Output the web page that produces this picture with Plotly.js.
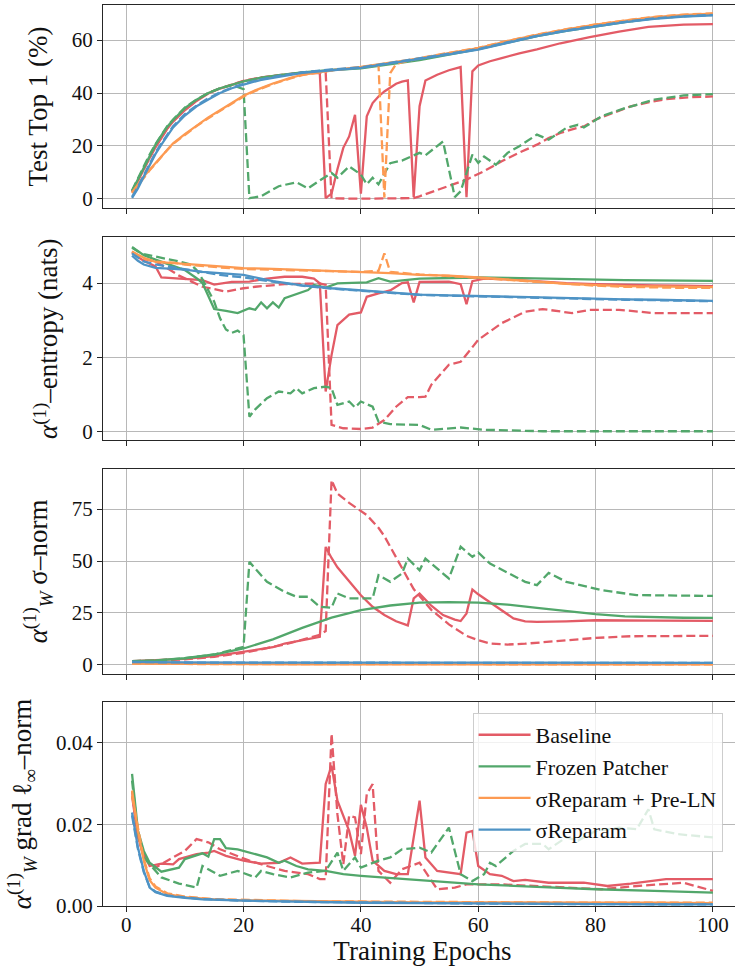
<!DOCTYPE html>
<html>
<head>
<meta charset="utf-8">
<script src="https://cdn.plot.ly/plotly-3.0.1.min.js"></script>
<style>
html, body { margin: 0; padding: 0; overflow: hidden; background: #fff; }
#chart { width: 742px; height: 966px; }
</style>
</head>
<body>
<div id="chart"></div>
<script>
// ---------------- Series names / colors ----------------
const seriesNames = ["Baseline", "Frozen Patcher", "σReparam + Pre-LN", "σReparam"];
const seriesColors = ["#E35B66", "#52A76B", "#FD9A52", "#4E93C5"];

// ---------------- Panel 1: Test Top 1 (%) ----------------
const top1_base_s_x = [1,2,3,4,5,6,7,8,10,12,14,16,18,20,23,26,30,33,34,35,36,37,38,39,40,41,42,43,44,45,46,47,48,49,50,51,52,53,55,57,58,59,60,62,64,67,70,74,79,84,89,95,100];
const top1_base_s_y = [2.5,7,11.2,15.5,19.5,23,26.5,29.2,33.5,37,39.8,41.7,43,44.5,45.8,46.7,47.6,47.5,0.3,2,11.2,19.3,23.6,31.8,2,31.2,36.2,38.7,40.6,41.9,43.5,44.3,44.8,0.7,35,44.7,45.9,46.9,48.6,49.8,0.7,48.2,50.4,52,53.2,55,56.5,58.8,61.1,63.2,65,65.8,66];
const top1_base_d_x = [1,2,3,4,5,6,7,8,10,12,14,16,18,20,23,26,30,34,35,40,45,49,50,52,55,58,61,64,67,70,72,74,76,78,80,83,86,89,92,96,100];
const top1_base_d_y = [2.8,7.2,11.5,15.8,19.8,23.3,26.7,29.5,33.8,37.2,40,41.8,43.2,44.6,45.9,46.8,47.8,47.8,0.2,0.1,0.1,0.3,1,2.5,5,7.3,10.5,14.2,17.5,20.5,23,24.9,26.3,27.4,30,32.5,35,36.5,37.7,38.4,38.7];
const top1_frz_s_x = [1,2,3,4,5,6,7,8,9,10,12,14,16,18,20,23,26,30,35,40,45,50,55,60,65,70,75,80,85,90,95,100];
const top1_frz_s_y = [3,7.5,12,16.5,20.5,24,27.3,29.8,32,34.3,37.5,40,41.8,43.2,44.4,45.8,46.8,47.8,48.7,49.3,50.8,52.4,54.5,56.6,59,61.5,63.5,65.2,66.8,68.2,69.1,69.7];
const top1_frz_d_x = [1,2,3,4,5,6,7,8,9,10,12,14,16,18,20,21,23,26,29,31,33,35,36,38,40,41,42,43,45,47,50,51,54,56,57,59,60,61,63,65,67,70,72,75,77,78,81,85,90,95,100];
const top1_frz_d_y = [3.2,7.8,12.3,16.8,20.7,24.2,27.5,30,32.2,34.5,37.6,40,41.8,43,41.5,0.3,1,4.8,6.3,4,7,9.8,8,12.3,9.2,5.5,8,5.5,13.5,14.5,17.4,16.5,21.7,0.7,2.9,16.7,13.6,16,12.9,17.4,19.9,24.3,22.4,26.8,28,27,31.2,34.3,37.5,39.1,39.6];
const top1_pln_s_x = [1,2,3,4,5,6,7,8,10,12,14,16,18,20,22,25,28,30,35,40,45,50,55,60,65,70,75,80,85,90,95,100];
const top1_pln_s_y = [2.5,5.5,8.5,11,13.5,16,18.8,21,24.5,27.8,30.8,33.5,36.3,39,41,43.6,45.7,46.9,48.6,49.9,51.5,53.1,55.1,57,59.6,62,64,65.8,67.3,68.7,69.5,70];
const top1_pln_d_x = [1,2,3,4,5,6,7,8,10,12,14,16,18,20,22,25,28,30,35,40,43,44,45,46,50,55,60,65,70,75,80,85,90,95,100];
const top1_pln_d_y = [2.2,5.2,8.2,10.8,13.3,16,18.5,20.8,24.2,27.5,30.5,33.3,36,38.7,40.8,43.4,45.5,46.8,48.5,49.7,50.6,0.5,47.5,51,53.2,55.2,57.1,59.7,62.1,64.1,65.9,67.4,68.8,69.6,70.1];
const top1_sig_s_x = [1,2,3,4,5,6,7,8,10,12,14,16,18,20,23,26,30,35,40,45,50,55,60,65,70,75,80,85,90,95,100];
const top1_sig_s_y = [0.4,4,8.5,13,17,20.5,24,27,31.5,35,37.6,40,41.8,43.2,45,46.2,47.6,48.6,49.5,51.2,52.8,54.6,56.4,59,61.5,63.5,65.2,66.8,68,68.9,69.3];
const top1_sig_d_x = [1,2,3,4,5,6,7,8,10,12,14,16,18,20,23,26,30,35,40,45,50,55,60,65,70,75,80,85,90,95,100];
const top1_sig_d_y = [0.8,4.5,9,13.5,17.5,21,24.5,27.5,32,35.3,38,40.3,42,43.5,45.2,46.5,47.8,48.9,49.7,51.4,53,54.8,56.6,59.2,61.6,63.7,65.3,66.9,68.2,69,69.5];

// ---------------- Panel 2: entropy (nats) ----------------
const ent_base_s_x = [1,2,3,4,5,6,8,10,13,15,18,21,24,27,30,32,33,34,35,36,38,40,41,43,45,46,47,48,49,50,52,55,57,58,59,61,65,70,75,80,85,90,95,100];
const ent_base_s_y = [4.85,4.7,4.6,4.52,4.45,4.15,4.13,4.13,4.08,3.96,4.03,4.04,4.12,4.17,4.17,4.12,3.99,1.08,2.06,2.87,3.15,3.21,3.63,3.72,3.8,3.9,4.0,4.02,3.48,4.03,4.04,4.04,3.97,3.43,4.05,4.12,4.1,4.04,4.0,3.97,3.95,3.94,3.93,3.92];
const ent_base_d_x = [1,2,3,5,7,9,13,17,20,22,27,33,34,35,37,40,42,44,46,48,50,51,52,55,57,60,64,68,71,76,79,84,90,95,100];
const ent_base_d_y = [4.82,4.72,4.65,4.58,4.4,4.2,3.9,3.77,3.86,3.9,3.97,3.99,3.95,0.18,0.09,0.07,0.11,0.31,0.67,0.93,0.93,0.94,1.26,1.8,1.88,2.47,2.92,3.23,3.3,3.19,3.28,3.28,3.19,3.19,3.19];
const ent_frz_s_x = [1,2,3,5,7,10,12,13,14,15,17,19,21,22,23,24,25,26,27,30,31,32,34,36,41,43,45,50,55,60,65,70,75,80,85,90,95,100];
const ent_frz_s_y = [4.97,4.85,4.75,4.63,4.52,4.35,4.13,4.0,3.65,3.3,3.25,3.19,3.32,3.28,3.48,3.32,3.48,3.34,3.59,3.77,3.81,3.95,3.88,3.99,4.02,4.13,4.04,4.12,4.14,4.15,4.14,4.12,4.1,4.09,4.08,4.07,4.06,4.06];
const ent_frz_d_x = [1,2,3,5,7,9,11,12,13,14,15,16,17,18,19,20,21,22,24,26,28,29,30,32,34,35,36,38,39,40,42,43,45,50,52,57,59,61,71,80,90,100];
const ent_frz_d_y = [4.95,4.85,4.78,4.72,4.65,4.58,4.5,4.35,4.1,3.8,3.5,3.05,2.75,2.66,2.72,2.6,0.4,0.6,0.9,1.08,1.03,1.17,1.03,1.17,1.21,1.17,0.72,0.81,0.65,0.81,0.67,0.27,0.2,0.18,0.05,0.11,0.09,0.05,0.01,0.01,0.01,0.01];
const ent_pln_s_x = [1,3,5,8,10,13,16,20,25,30,35,40,45,50,55,60,65,70,75,80,85,90,95,100];
const ent_pln_s_y = [4.85,4.68,4.57,4.53,4.52,4.48,4.45,4.4,4.38,4.35,4.33,4.31,4.27,4.22,4.2,4.15,4.1,4.04,3.98,3.95,3.92,3.91,3.9,3.89];
const ent_pln_d_x = [1,3,5,8,10,13,16,20,25,30,35,40,43,44,45,50,55,60,65,70,75,80,85,90,95,100];
const ent_pln_d_y = [4.82,4.66,4.58,4.55,4.5,4.45,4.42,4.38,4.37,4.34,4.32,4.3,4.33,4.8,4.3,4.23,4.19,4.14,4.09,4.02,3.97,3.93,3.9,3.88,3.87,3.87];
const ent_sig_s_x = [1,2,3,5,8,10,13,16,20,25,30,35,40,45,50,55,60,65,70,75,80,85,90,95,100];
const ent_sig_s_y = [4.74,4.6,4.5,4.41,4.38,4.36,4.3,4.26,4.22,4.05,3.94,3.86,3.8,3.73,3.69,3.67,3.65,3.63,3.62,3.6,3.57,3.56,3.55,3.53,3.52];
const ent_sig_d_x = [1,2,3,5,8,10,13,16,20,25,30,35,40,45,50,55,60,65,70,75,80,85,90,95,100];
const ent_sig_d_y = [4.8,4.68,4.58,4.5,4.42,4.38,4.28,4.22,4.15,4.03,3.93,3.85,3.79,3.73,3.68,3.66,3.64,3.62,3.61,3.59,3.56,3.55,3.54,3.52,3.51];

// ---------------- Panel 3: sigma-norm ----------------
const sig_base_s_x = [1,5,10,15,20,25,27,30,33,34,35,36,38,40,42,44,46,48,49,50,52,54,56,57,58,59,60,62,64,66,68,70,75,80,90,100];
const sig_base_s_y = [1.8,2.2,2.9,4.2,6.3,8.5,10.3,11.8,13.5,56.8,51.5,47,40.3,33.5,28,24,21,19,32,34.4,28.5,24,21.8,21.1,24.8,36.3,34,30,26,22.4,21,20.7,21,21.5,21.3,21.2];
const sig_base_d_x = [1,5,10,15,20,27,30,33,34,35,36,38,41,43,44,46,47,49,52,55,58,60,62,65,68,72,80,86,100];
const sig_base_d_y = [1.7,2.0,2.7,3.9,5.8,9.8,12,14.5,16.3,89,82.5,78,72.1,66,62,52,47,36.5,26.5,19.5,14,11.9,10.3,9.8,10.2,11.1,13,13.8,14];
const sig_frz_s_x = [1,5,10,15,20,25,30,35,40,45,50,55,60,65,70,75,80,85,90,95,100];
const sig_frz_s_y = [1.8,2.2,3.2,5.0,7.9,12.3,17.8,22.8,26.4,28.6,30,30.2,30,29,27.5,25.9,24.4,23.4,22.9,22.7,22.6];
const sig_frz_d_x = [1,5,10,15,20,21,24,27,29,31,33,35,36,38,42,43,45,47,48,50,51,55,57,59,60,62,68,70,72,75,81,87,100];
const sig_frz_d_y = [1.8,2.1,3.2,5.0,8.7,49.6,40,35.2,32.8,32.8,28,27.5,34.4,32,32,43.2,40,44,51.2,45.6,51.2,41.6,56.9,52,54.1,48.8,40,38.4,44.3,40,36,33.6,33.2];
const sig_pln_s_x = [1,10,30,60,100];
const sig_pln_s_y = [0.6,0.4,0.3,0.3,0.3];
const sig_pln_d_x = [1,10,30,60,100];
const sig_pln_d_y = [0.7,0.45,0.35,0.3,0.3];
const sig_sig_s_x = [1,10,30,60,100];
const sig_sig_s_y = [1.5,1.2,1.1,1.05,1.0];
const sig_sig_d_x = [1,10,30,60,100];
const sig_sig_d_y = [1.4,1.15,1.05,1.0,0.95];

// ---------------- Panel 4: grad l_inf-norm ----------------
const grd_base_s_x = [1,2,3,4,6,8,9,12,14,15,17,20,23,26,28,30,33,34,35,36,38,39,40,41,42,44,46,48,50,51,53,55,57,58,59,60,62,64,66,68,72,78,82,86,92,100];
const grd_base_s_y = [0.027,0.0168,0.0127,0.0098,0.0104,0.0102,0.0115,0.0127,0.0131,0.0135,0.0123,0.0111,0.0104,0.0106,0.0119,0.0104,0.0106,0.0299,0.0344,0.0258,0.0184,0.0123,0.0248,0.0192,0.0111,0.0086,0.0078,0.0078,0.0258,0.0119,0.0086,0.0082,0.0078,0.018,0.0184,0.0098,0.0078,0.0074,0.0061,0.0064,0.0057,0.0057,0.0049,0.0055,0.0066,0.0066];
const grd_base_d_x = [1,2,3,5,7,10,12,14,16,18,21,24,27,31,33,34,35,36,37,38,39,40,41,42,43,45,47,50,53,56,58,64,70,75,81,87,92,95,100];
const grd_base_d_y = [0.028,0.017,0.0119,0.0094,0.0111,0.0135,0.0164,0.0156,0.0139,0.0127,0.0111,0.0098,0.0086,0.0078,0.0066,0.0066,0.0422,0.0225,0.0102,0.0221,0.0217,0.0127,0.0274,0.0299,0.0086,0.0057,0.009,0.0106,0.0041,0.0045,0.0053,0.0053,0.0049,0.0045,0.0041,0.0049,0.0053,0.0057,0.0037];
const grd_frz_s_x = [1,2,3,4,6,9,10,13,14,15,16,17,19,22,24,26,27,29,31,34,37,40,44,50,52,60,70,80,90,100];
const grd_frz_s_y = [0.0324,0.0185,0.0135,0.0106,0.0084,0.0094,0.0115,0.0129,0.0121,0.0164,0.0164,0.0142,0.0139,0.0127,0.0119,0.0106,0.0111,0.0098,0.009,0.0086,0.0078,0.0074,0.007,0.0063,0.0061,0.0053,0.0047,0.0041,0.0037,0.0033];
const grd_frz_d_x = [1,2,3,6,9,12,13,16,19,22,23,25,28,31,34,36,37,39,40,43,45,47,50,52,55,57,59,61,62,63,66,68,71,72,75,77,80,84,87,89,90,94,100];
const grd_frz_d_y = [0.0307,0.018,0.0119,0.007,0.0055,0.0045,0.0098,0.0074,0.0086,0.007,0.0086,0.0078,0.007,0.0082,0.0086,0.0131,0.0086,0.0119,0.0094,0.0111,0.0119,0.0139,0.0143,0.0131,0.0192,0.0078,0.0061,0.0078,0.0106,0.0098,0.0135,0.0152,0.0152,0.0139,0.0168,0.016,0.0184,0.0192,0.0188,0.0237,0.0188,0.0176,0.0168];
const grd_pln_s_x = [1,2,3,4,5,7,10,15,20,30,40,50,60,70,80,90,100];
const grd_pln_s_y = [0.0283,0.0184,0.0111,0.0063,0.0045,0.0029,0.0022,0.0016,0.0014,0.0012,0.001,0.0009,0.0009,0.0008,0.0008,0.0008,0.0007];
const grd_pln_d_x = [1,2,3,4,5,7,10,15,20,30,40,50,60,70,80,90,100];
const grd_pln_d_y = [0.027,0.019,0.0115,0.0068,0.0048,0.0031,0.0023,0.0017,0.0015,0.0012,0.0011,0.001,0.0009,0.0009,0.0008,0.0008,0.0008];
const grd_sig_s_x = [1,2,3,4,5,7,10,13,20,30,40,50,60,70,80,90,100];
const grd_sig_s_y = [0.0229,0.0143,0.0086,0.0045,0.0034,0.0025,0.002,0.0016,0.0013,0.001,0.0008,0.0007,0.0006,0.0005,0.0005,0.0004,0.0004];
const grd_sig_d_x = [1,2,3,4,5,7,10,13,20,30,40,50,60,70,80,90,100];
const grd_sig_d_y = [0.0222,0.014,0.0083,0.0047,0.0035,0.0026,0.0021,0.0017,0.0013,0.001,0.0009,0.0007,0.0006,0.0005,0.0005,0.0004,0.0004];

// ---------------- Axis tick / title text ----------------
const xTicks = [0,20,40,60,80,100];
const yTicks1 = [0,20,40,60];
const yTicks2 = [0,2,4];
const yTicks3 = [0,25,50,75];
const yTicks4 = [0,0.02,0.04];
const yTitles = [
  "Test Top 1 (%)",
  "<i>α</i><sup>(1)</sup>–entropy (nats)",
  "<i>α</i><sup>(1)</sup><sub><i>W</i></sub> σ–norm",
  "<i>α</i><sup>(1)</sup><sub><i>W</i></sub> grad ℓ<sub>∞</sub>–norm"
];
const xTitle = "Training Epochs";

// ---------------- Build traces ----------------
const panels = [
  [[top1_base_s_x, top1_base_s_y, top1_base_d_x, top1_base_d_y],
   [top1_frz_s_x, top1_frz_s_y, top1_frz_d_x, top1_frz_d_y],
   [top1_pln_s_x, top1_pln_s_y, top1_pln_d_x, top1_pln_d_y],
   [top1_sig_s_x, top1_sig_s_y, top1_sig_d_x, top1_sig_d_y]],
  [[ent_base_s_x, ent_base_s_y, ent_base_d_x, ent_base_d_y],
   [ent_frz_s_x, ent_frz_s_y, ent_frz_d_x, ent_frz_d_y],
   [ent_pln_s_x, ent_pln_s_y, ent_pln_d_x, ent_pln_d_y],
   [ent_sig_s_x, ent_sig_s_y, ent_sig_d_x, ent_sig_d_y]],
  [[sig_base_s_x, sig_base_s_y, sig_base_d_x, sig_base_d_y],
   [sig_frz_s_x, sig_frz_s_y, sig_frz_d_x, sig_frz_d_y],
   [sig_pln_s_x, sig_pln_s_y, sig_pln_d_x, sig_pln_d_y],
   [sig_sig_s_x, sig_sig_s_y, sig_sig_d_x, sig_sig_d_y]],
  [[grd_base_s_x, grd_base_s_y, grd_base_d_x, grd_base_d_y],
   [grd_frz_s_x, grd_frz_s_y, grd_frz_d_x, grd_frz_d_y],
   [grd_pln_s_x, grd_pln_s_y, grd_pln_d_x, grd_pln_d_y],
   [grd_sig_s_x, grd_sig_s_y, grd_sig_d_x, grd_sig_d_y]]
];

const LW = 2.3;
const traces = [];
panels.forEach((panel, p) => {
  const ax = p === 0 ? "" : String(p + 1);
  panel.forEach((s, k) => {
    traces.push({
      x: s[0], y: s[1], type: "scatter", mode: "lines",
      name: seriesNames[k],
      showlegend: p === 3,
      line: {color: seriesColors[k], width: LW},
      xaxis: "x" + ax, yaxis: "y" + ax, hoverinfo: "skip"
    });
    traces.push({
      x: s[2], y: s[3], type: "scatter", mode: "lines",
      name: seriesNames[k] + " (dashed)",
      showlegend: false,
      line: {color: seriesColors[k], width: LW, dash: "9px,4px"},
      xaxis: "x" + ax, yaxis: "y" + ax, hoverinfo: "skip"
    });
  });
});

// ---------------- Layout ----------------
const FONT = "'Liberation Serif', 'Times New Roman', 'DejaVu Serif', serif";
const W = 742, H = 966;
const ML = 103.3, MT = 5, MB = 60.3, MR = 0;
const PW = W - ML - MR, PH = H - MT - MB;
const py = v => (H - MB - v) / PH;       // pixel row -> paper fraction
const px = v => (v - ML) / PW;           // pixel column -> paper fraction
const yDoms = [
  [py(208), 1],
  [py(440), py(237.3)],
  [py(673.3), py(469.3)],
  [0, py(701.7)]
];
const yRanges = [[-3.45, 73.25], [-0.23, 5.23], [-4.15, 94.1], [0, 0.05]];
const yTickSets = [yTicks1, yTicks2, yTicks3, yTicks4];

const common = {
  showline: true, mirror: true, linecolor: "#262626", linewidth: 1,
  ticks: "outside", ticklen: 5, tickwidth: 1, tickcolor: "#262626",
  showgrid: true, gridcolor: "#b8b8b8", gridwidth: 1, zeroline: false,
  tickfont: {family: FONT, size: 21, color: "#111"}, automargin: false
};

const layout = {
  width: W, height: H,
  margin: {l: ML, r: MR, t: MT, b: MB, pad: 0},
  paper_bgcolor: "#fff", plot_bgcolor: "#fff",
  font: {family: FONT, color: "#111"},
  showlegend: true,
  legend: {
    x: px(472.7), y: py(712.7), xanchor: "left", yanchor: "top",
    bgcolor: "rgba(255,255,255,0.8)", bordercolor: "rgba(200,200,200,0.9)", borderwidth: 1,
    font: {family: FONT, size: 22, color: "#111"},
    itemwidth: 52, tracegroupgap: 0
  }
};

for (let p = 0; p < 4; p++) {
  const ax = p === 0 ? "" : String(p + 1);
  const xa = Object.assign({}, common, {
    domain: [0, 1], range: [-3.95, 104.95], anchor: "y" + ax,
    tickvals: xTicks, ticktext: xTicks.map(String),
    showticklabels: p === 3
  });
  if (p !== 0) xa.matches = "x";
  if (p === 3) {
    xa.ticklabelstandoff = -5;
    xa.title = {text: xTitle, font: {family: FONT, size: 27, color: "#111"}, standoff: 8};
  }
  const ya = Object.assign({}, common, {
    domain: yDoms[p], range: yRanges[p], anchor: "x" + ax,
    tickvals: yTickSets[p],
    ticktext: yTickSets[p].map(v => p === 3 ? v.toFixed(2) : String(v)),
    title: {text: yTitles[p], font: {family: FONT, size: 27, color: "#111"}, standoff: 16}
  });
  layout["xaxis" + ax] = xa;
  layout["yaxis" + ax] = ya;
}

Plotly.newPlot("chart", traces, layout, {staticPlot: true, displayModeBar: false});
</script>
</body>
</html>
